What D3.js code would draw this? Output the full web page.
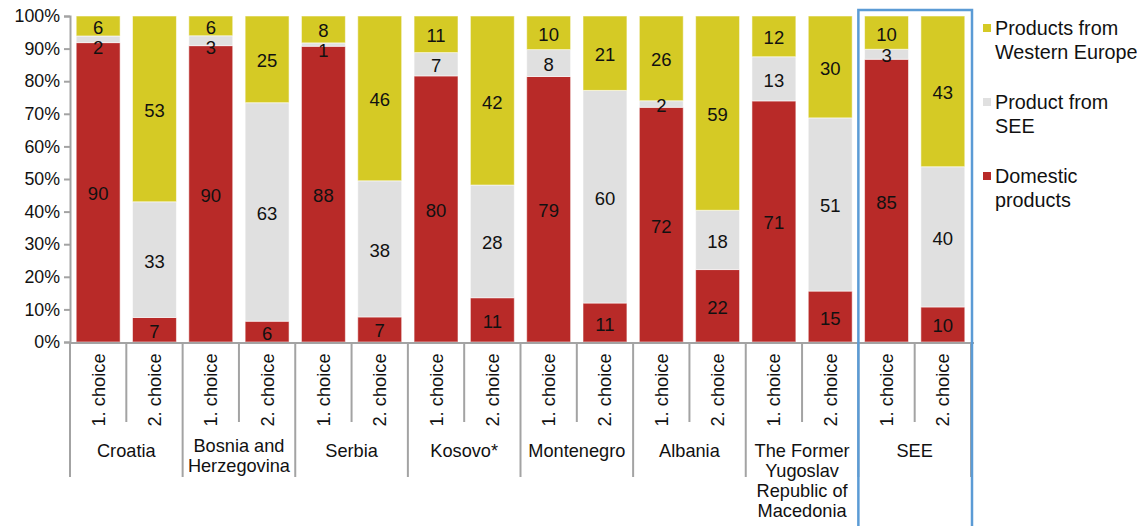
<!DOCTYPE html>
<html>
<head>
<meta charset="utf-8">
<script src="https://cdn.jsdelivr.net/npm/d3@7"></script>
<style>
  html, body { margin: 0; padding: 0; background: #fff; }
  svg { display: block; font-family: Arial, "Liberation Sans", sans-serif; }
</style>
</head>
<body>
<svg id="chart" width="1137" height="526"></svg>
<script>
// Country groups (multi-line labels) and the two choices within each group
const groupLabels = [
  ["Croatia"],
  ["Bosnia and", "Herzegovina"],
  ["Serbia"],
  ["Kosovo*"],
  ["Montenegro"],
  ["Albania"],
  ["The Former", "Yugoslav", "Republic of", "Macedonia"],
  ["SEE"]
];
const choices = ["1. choice", "2. choice"];

// Answer counts per bar, in group order (1. choice, 2. choice, ...)
const domestic      = [90, 7, 90, 6, 88, 7, 80, 11, 79, 11, 72, 22, 71, 15, 85, 10];
const fromSEE       = [2, 33, 3, 63, 1, 38, 7, 28, 8, 60, 2, 18, 13, 51, 3, 40];
const westernEurope = [6, 53, 6, 25, 8, 46, 11, 42, 10, 21, 26, 59, 12, 30, 10, 43];

const seriesKeys   = ["domestic", "see", "west"];
const seriesNames  = { west: ["Products from", "Western Europe"], see: ["Product from", "SEE"], domestic: ["Domestic", "products"] };
const seriesColors = { domestic: "#b82a28", see: "#e0e0e0", west: "#d5ca25" };

const yTicks = [0, 0.1, 0.2, 0.3, 0.4, 0.5, 0.6, 0.7, 0.8, 0.9, 1];

(function draw() {
  // Build one row per bar
  const rows = [];
  groupLabels.forEach((g, gi) => {
    choices.forEach((c, ci) => {
      const i = gi * 2 + ci;
      rows.push({ id: i, group: gi, choice: c, domestic: domestic[i], see: fromSEE[i], west: westernEurope[i] });
    });
  });

  const svg = d3.select("#chart");
  const plotLeft = 70, plotRight = 971, plotTop = 16, plotBottom = 342;

  const x = d3.scaleBand().domain(rows.map(d => d.id)).range([plotLeft, plotRight]).paddingInner(0.22).paddingOuter(0.11);
  const y = d3.scaleLinear().domain([0, 1]).range([plotBottom, plotTop]);

  const stack = d3.stack().keys(seriesKeys).offset(d3.stackOffsetExpand);
  const layers = stack(rows);

  // Bars
  const layerG = svg.append("g").selectAll("g").data(layers).join("g")
    .attr("fill", d => seriesColors[d.key]);
  layerG.selectAll("rect").data(d => d).join("rect")
    .attr("x", d => x(d.data.id))
    .attr("width", x.bandwidth())
    .attr("y", d => y(d[1]))
    .attr("height", d => y(d[0]) - y(d[1]))
    .attr("stroke", "rgba(255,255,255,0.55)")
    .attr("stroke-width", 1);

  // Value labels, placed top-down so small segments don't collide
  const labels = [];
  rows.forEach((r, i) => {
    let prev = -Infinity;
    ["west", "see", "domestic"].forEach(k => {
      const L = layers.find(l => l.key === k)[i];
      const c = (y(L[0]) + y(L[1])) / 2;
      const yy = Math.max(c, prev + 20);
      prev = yy;
      labels.push({ x: x(r.id) + x.bandwidth() / 2, y: yy + 1.5, v: r[k] });
    });
  });
  svg.append("g").selectAll("text").data(labels).join("text")
    .attr("x", d => d.x).attr("y", d => d.y)
    .attr("text-anchor", "middle").attr("dominant-baseline", "central")
    .attr("font-size", 18.5).attr("fill", "#111")
    .text(d => d.v);

  // Y axis
  const axisColor = "#a3a3a3";
  const yAxis = d3.axisLeft(y).tickValues(yTicks).tickFormat(d3.format(".0%")).tickSize(6).tickPadding(4);
  const yg = svg.append("g").attr("transform", `translate(${plotLeft},0)`).call(yAxis);
  yg.select(".domain").attr("stroke", axisColor).attr("stroke-width", 2);
  yg.selectAll(".tick line").attr("stroke", axisColor).attr("stroke-width", 2);
  yg.selectAll(".tick text").attr("font-size", 17.8).attr("fill", "#111").attr("font-family", "Arial, 'Liberation Sans', sans-serif");

  // Category axis: baseline, choice ticks and group separators
  const ax = svg.append("g");
  ax.append("line").attr("x1", plotLeft).attr("x2", plotRight + 3).attr("y1", plotBottom + 1).attr("y2", plotBottom + 1)
    .attr("stroke", axisColor).attr("stroke-width", 2);
  const step = x.step();
  rows.forEach((r, i) => {
    const bx = x(r.id) - (step - x.bandwidth()) / 2;
    const isGroupEdge = i % 2 === 0;
    ax.append("line").attr("x1", bx).attr("x2", bx).attr("y1", plotBottom + 1)
      .attr("y2", isGroupEdge ? 477 : 422).attr("stroke", axisColor).attr("stroke-width", 2);
  });
  ax.append("line").attr("x1", plotRight).attr("x2", plotRight).attr("y1", plotBottom + 1).attr("y2", 477)
    .attr("stroke", axisColor).attr("stroke-width", 2);

  // Rotated choice labels
  svg.append("g").selectAll("text").data(rows).join("text")
    .attr("transform", d => `translate(${x(d.id) + x.bandwidth() / 2},390) rotate(-90)`)
    .attr("text-anchor", "middle").attr("dominant-baseline", "central")
    .attr("font-size", 18.3).attr("fill", "#111")
    .text(d => d.choice);

  // Group labels
  const gl = svg.append("g").selectAll("text").data(groupLabels).join("text")
    .attr("x", (d, gi) => (x(gi * 2) + x(gi * 2 + 1) + x.bandwidth()) / 2)
    .attr("y", 451)
    .attr("text-anchor", "middle").attr("dominant-baseline", "central")
    .attr("font-size", 18.2).attr("fill", "#111");
  gl.each(function(lines) {
    const t = d3.select(this);
    const cx = t.attr("x");
    lines.forEach((ln, li) => {
      t.append("tspan").attr("x", cx).attr("dy", li === 0 ? (lines.length === 2 ? -5 : 0) : 20).text(ln);
    });
  });

  // Highlight frame around the SEE group
  const seeStart = x(14) - (step - x.bandwidth()) / 2;
  svg.append("rect")
    .attr("x", seeStart).attr("y", 10)
    .attr("width", plotRight - seeStart + 1).attr("height", 540)
    .attr("fill", "none").attr("stroke", "#5b9bd5").attr("stroke-width", 2.5);

  // Legend
  const legendItems = ["west", "see", "domestic"];
  const lg = svg.append("g").selectAll("g").data(legendItems).join("g")
    .attr("transform", (d, i) => `translate(983,${28 + i * 74})`);
  lg.append("rect").attr("x", 0).attr("y", -4).attr("width", 8).attr("height", 8)
    .attr("fill", d => seriesColors[d]);
  lg.append("text").attr("x", 12).attr("y", 0)
    .attr("dominant-baseline", "central").attr("font-size", 19.8).attr("fill", "#111")
    .selectAll("tspan").data(d => seriesNames[d]).join("tspan")
    .attr("x", 12).attr("dy", (d, i) => i === 0 ? 0 : 23.5).text(d => d);
})();
</script>
</body>
</html>
